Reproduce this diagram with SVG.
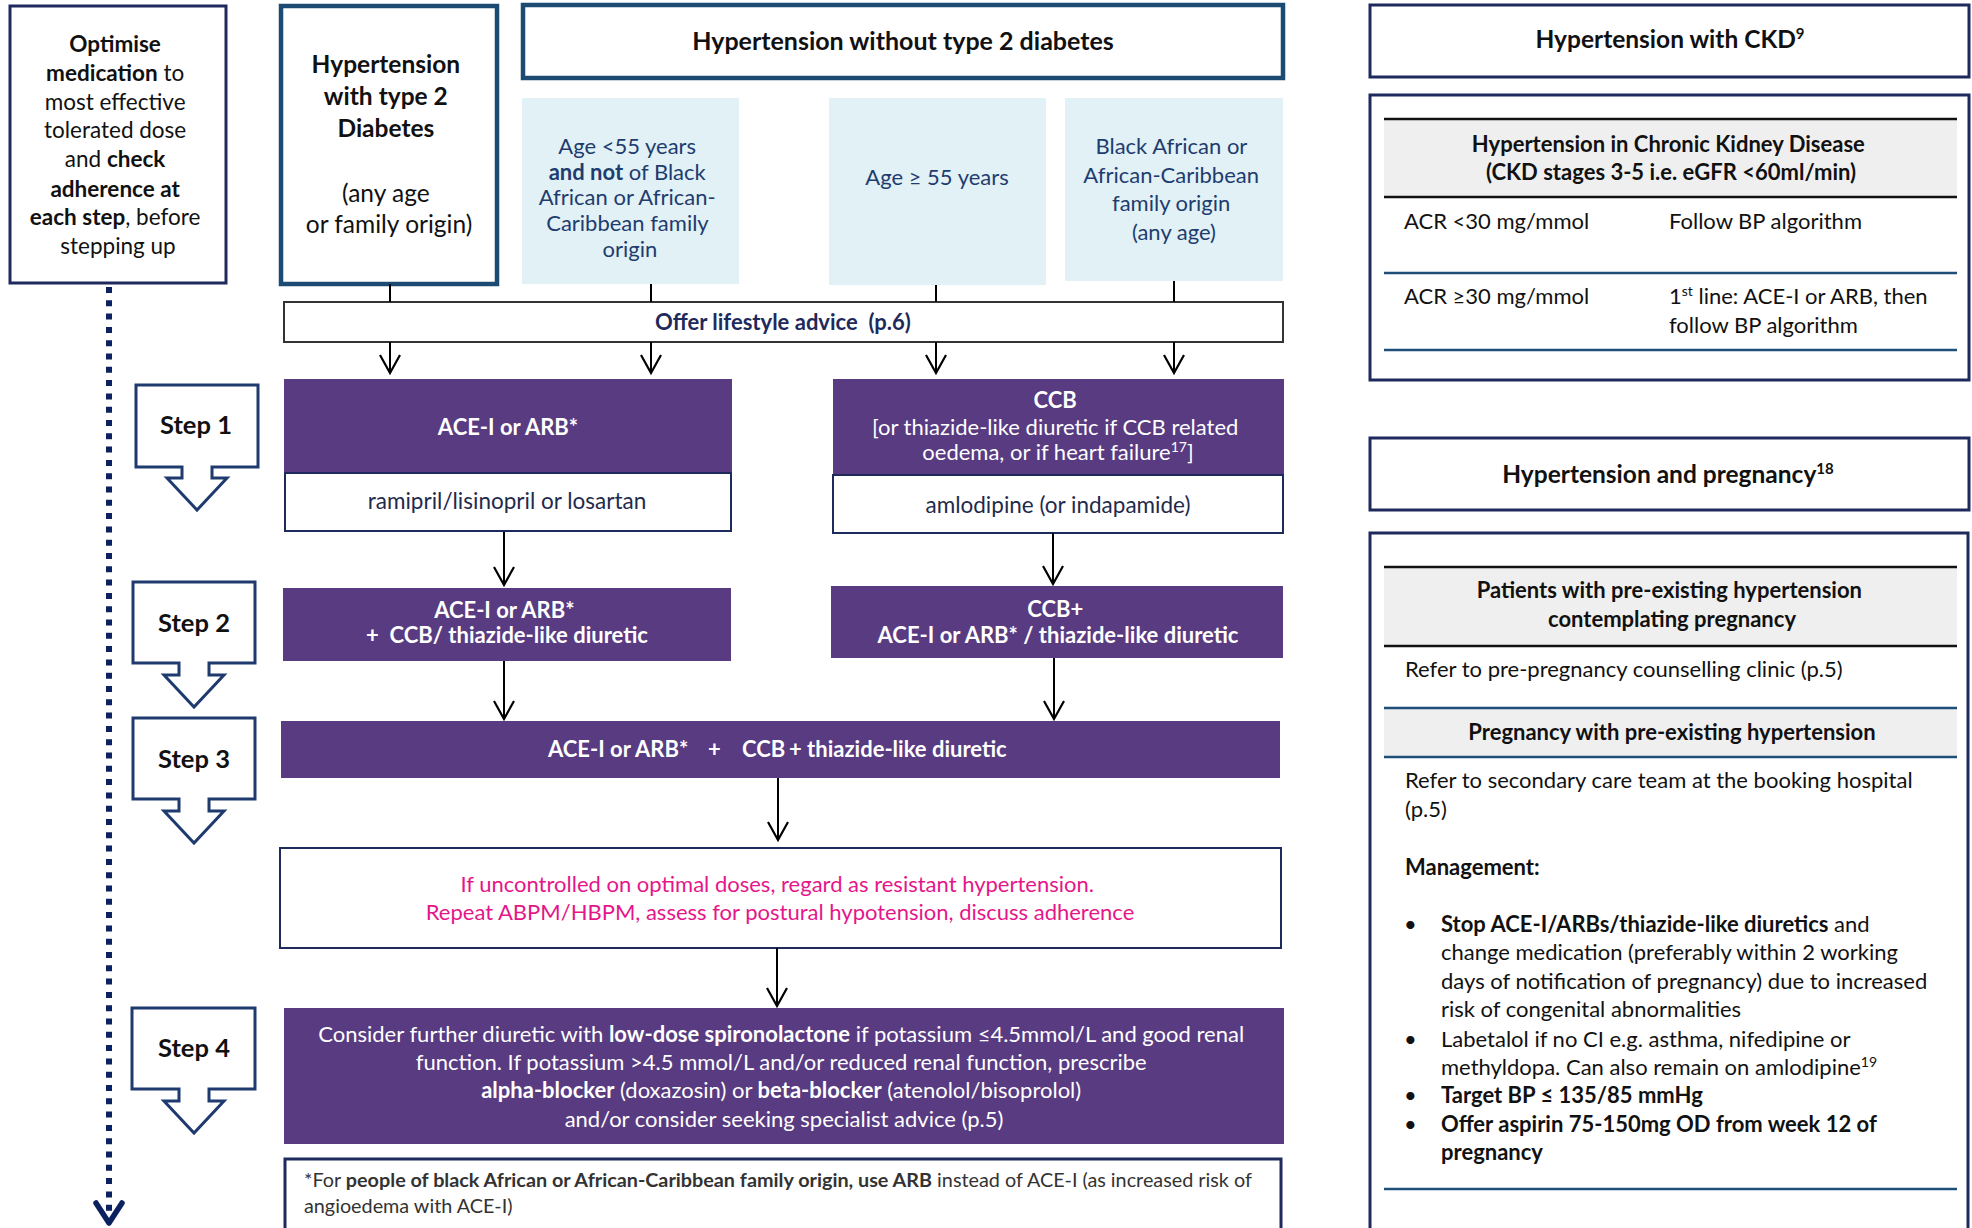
<svg xmlns="http://www.w3.org/2000/svg" width="1972" height="1228" viewBox="0 0 1972 1228">
<style>
text{font-family:Lato,"Open Sans","Liberation Sans",sans-serif;}
.b{font-weight:bold;}
.c{text-anchor:middle;}
.navyBox{fill:#fff;stroke:#1f2a5c;stroke-width:3;}
.blueBox{fill:#fff;stroke:#1b4a72;stroke-width:4.5;}
.lb{fill:#e1f1f6;}
.lbt{fill:#1f3c6e;font-size:22px;}
.pur{fill:#583b81;}
.wt{fill:#fff;font-size:22px;}
.sub{fill:#fff;stroke:#1f2a5c;stroke-width:2;}
.step{fill:#fff;stroke:#1f3a6e;stroke-width:3;stroke-linejoin:miter;}
.stept{font-size:25.5px;font-weight:bold;fill:#111;text-anchor:middle;}
.rt{font-size:22px;fill:#111;}
.conn{stroke:#000;stroke-width:2;fill:none;}
</style>
<defs>
<marker id="arr" markerUnits="userSpaceOnUse" orient="auto" overflow="visible" markerWidth="20" markerHeight="20" refX="0" refY="0">
<path d="M-18,-10 L0,0 L-18,10" fill="none" stroke="#000" stroke-width="2.2"/>
</marker>
<marker id="arrN" markerUnits="userSpaceOnUse" orient="auto" overflow="visible" markerWidth="30" markerHeight="30" refX="0" refY="0">
<path d="M-20,-13 L0,0 L-20,13" fill="none" stroke="#0b2160" stroke-width="5.5" stroke-linejoin="round" stroke-linecap="round"/>
</marker>
</defs>

<!-- Optimise box -->
<g id="optimise">
<rect class="navyBox" x="10" y="6" width="216" height="277"/>
<text class="c" font-size="22.5" fill="#111">
<tspan x="118" y="52" class="b">Optimise</tspan>
<tspan x="118" y="81"><tspan class="b">medication</tspan> to</tspan>
<tspan x="118" y="110">most effective</tspan>
<tspan x="118" y="138">tolerated dose</tspan>
<tspan x="118" y="167">and <tspan class="b">check</tspan></tspan>
<tspan x="118" y="197" class="b">adherence at</tspan>
<tspan x="118" y="225"><tspan class="b">each step</tspan>, before</tspan>
<tspan x="118" y="254">stepping up</tspan>
</text>
</g>

<!-- Diabetes box -->
<g id="t2d">
<rect class="blueBox" x="281" y="6" width="216" height="278"/>
<text class="c" font-size="24.5" fill="#111">
<tspan x="389" y="73" class="b">Hypertension</tspan>
<tspan x="389" y="105" class="b">with type 2</tspan>
<tspan x="389" y="137" class="b">Diabetes</tspan>
<tspan x="389" y="202">(any age</tspan>
<tspan x="389" y="233">or family origin)</tspan>
</text>
</g>

<!-- Without T2D header -->
<g id="noT2d">
<rect class="blueBox" x="523" y="5" width="760" height="73"/>
<text class="c b" x="903" y="50" font-size="25" fill="#111">Hypertension without type 2 diabetes</text>
</g>

<g id="ageUnder55">
<rect class="lb" x="522" y="98" width="217" height="186"/>
<text class="c lbt">
<tspan x="630" y="154">Age &lt;55 years</tspan>
<tspan x="630" y="180"><tspan class="b">and not</tspan> of Black</tspan>
<tspan x="630" y="205">African or African-</tspan>
<tspan x="630" y="231">Caribbean family</tspan>
<tspan x="630" y="257">origin</tspan>
</text>
</g>

<g id="age55plus">
<rect class="lb" x="829" y="98" width="217" height="187"/>
<text class="c lbt" x="937" y="185">Age ≥ 55 years</text>
</g>

<g id="blackAfrican">
<rect class="lb" x="1065" y="98" width="218" height="183"/>
<text class="c lbt">
<tspan x="1174" y="154">Black African or</tspan>
<tspan x="1174" y="183">African-Caribbean</tspan>
<tspan x="1174" y="211">family origin</tspan>
<tspan x="1174" y="240">(any age)</tspan>
</text>
</g>

<g id="lifestyle">
<rect x="284" y="302" width="999" height="40" fill="#fff" stroke="#333" stroke-width="2"/>
<text class="c b" x="783" y="330" font-size="22" fill="#1f2a5c">Offer lifestyle advice&#160; (p.6)</text>
</g>

<!-- Step arrows -->
<g id="step1">
<path class="step" d="M136,385 H258 V467 H212 V478 H227 L197,510 L167,478 H182 V467 H136 Z"/>
<text class="stept" x="196" y="434">Step 1</text>
</g>
<g id="step2">
<path class="step" d="M133,582 H255 V663 H209 V675 H224 L194,707 L164,675 H179 V663 H133 Z"/>
<text class="stept" x="194" y="632">Step 2</text>
</g>
<g id="step3">
<path class="step" d="M133,718 H255 V799 H209 V811 H224 L194,843 L164,811 H179 V799 H133 Z"/>
<text class="stept" x="194" y="768">Step 3</text>
</g>
<g id="step4">
<path class="step" d="M132,1008 H255 V1089 H209 V1101 H224 L194,1133 L164,1101 H179 V1089 H132 Z"/>
<text class="stept" x="194" y="1057">Step 4</text>
</g>

<!-- Step 1 left -->
<g id="s1left">
<rect class="pur" x="284" y="379" width="448" height="94"/>
<text class="c b wt" x="508" y="435">ACE-I or ARB*</text>
<rect class="sub" x="285" y="473" width="446" height="58"/>
<text class="c" x="507" y="509" font-size="22.5" fill="#1f2a4c">ramipril/lisinopril or losartan</text>
</g>

<!-- Step 1 right -->
<g id="s1right">
<rect class="pur" x="833" y="379" width="451" height="96"/>
<text class="c wt">
<tspan x="1058" y="408" class="b">CCB</tspan>
<tspan x="1058" y="435">[or thiazide-like diuretic if CCB related</tspan>
<tspan x="1058" y="460">oedema, or if heart failure<tspan font-size="14" baseline-shift="super">17</tspan>]</tspan>
</text>
<rect class="sub" x="833" y="475" width="450" height="58"/>
<text class="c" x="1058" y="513" font-size="22.5" fill="#1f2a4c">amlodipine (or indapamide)</text>
</g>

<!-- Step 2 -->
<g id="s2left">
<rect class="pur" x="283" y="588" width="448" height="73"/>
<text class="c b wt">
<tspan x="507" y="618">ACE-I or ARB*</tspan>
<tspan x="507" y="643">+&#160; CCB/ thiazide-like diuretic</tspan>
</text>
</g>
<g id="s2right">
<rect class="pur" x="831" y="586" width="452" height="72"/>
<text class="c b wt">
<tspan x="1058" y="617">CCB+</tspan>
<tspan x="1058" y="643">ACE-I or ARB* / thiazide-like diuretic</tspan>
</text>
</g>

<!-- Step 3 -->
<g id="s3">
<rect class="pur" x="281" y="721" width="999" height="57"/>
<text class="b wt" y="757">
<tspan x="548">ACE-I or ARB*</tspan>
<tspan x="708">+</tspan>
<tspan x="742">CCB</tspan>
<tspan x="789">+ thiazide-like diuretic</tspan>
</text>
</g>

<!-- Resistant -->
<g id="resistant">
<rect x="280" y="848" width="1001" height="100" fill="#fff" stroke="#1f2a5c" stroke-width="2"/>
<text class="c" font-size="22" fill="#e5168a">
<tspan x="780" y="892">If uncontrolled on optimal doses, regard as resistant hypertension.</tspan>
<tspan x="780" y="920">Repeat ABPM/HBPM, assess for postural hypotension, discuss adherence</tspan>
</text>
</g>

<!-- Step 4 -->
<g id="s4">
<rect class="pur" x="284" y="1008" width="1000" height="136"/>
<text class="c wt" font-size="22.4">
<tspan x="784" y="1042">Consider further diuretic with <tspan class="b">low-dose spironolactone</tspan> if potassium ≤4.5mmol/L and good renal</tspan>
<tspan x="784" y="1070">function. If potassium &gt;4.5 mmol/L and/or reduced renal function, prescribe</tspan>
<tspan x="784" y="1098"><tspan class="b">alpha-blocker</tspan> (doxazosin) or <tspan class="b">beta-blocker</tspan> (atenolol/bisoprolol)</tspan>
<tspan x="784" y="1127">and/or consider seeking specialist advice (p.5)</tspan>
</text>
</g>

<!-- Footnote -->
<g id="footnote">
<rect x="285" y="1159" width="996" height="90" fill="#fff" stroke="#1f2a5c" stroke-width="3"/>
<text font-size="19.8" fill="#333">
<tspan x="304" y="1187">*For <tspan class="b">people of black African or African-Caribbean family origin, use ARB</tspan> instead of ACE-I (as increased risk of</tspan>
<tspan x="304" y="1213">angioedema with ACE-I)</tspan>
</text>
</g>

<!-- CKD -->
<g id="ckdHeader">
<rect class="navyBox" x="1370" y="5" width="599" height="72" stroke-width="3.5"/>
<text class="c b" x="1670" y="48" font-size="24.5" fill="#111">Hypertension with CKD<tspan font-size="15" baseline-shift="super">9</tspan></text>
</g>
<g id="ckdTable">
<rect class="navyBox" x="1370" y="95" width="599" height="285" stroke-width="3.5"/>
<rect x="1384" y="119" width="573" height="78" fill="#efefef"/>
<line x1="1384" y1="119" x2="1957" y2="119" stroke="#111" stroke-width="2.5"/>
<line x1="1384" y1="197" x2="1957" y2="197" stroke="#111" stroke-width="2.5"/>
<line x1="1384" y1="273" x2="1957" y2="273" stroke="#1f4e79" stroke-width="2.5"/>
<line x1="1384" y1="350" x2="1957" y2="350" stroke="#1f4e79" stroke-width="2.5"/>
<text class="c b rt">
<tspan x="1671" y="152">Hypertension in Chronic Kidney Disease</tspan>
<tspan x="1671" y="180">(CKD stages 3-5 i.e. eGFR &lt;60ml/min)</tspan>
</text>
<text class="rt" x="1404" y="229">ACR &lt;30 mg/mmol</text>
<text class="rt" x="1669" y="229">Follow BP algorithm</text>
<text class="rt" x="1404" y="304">ACR ≥30 mg/mmol</text>
<text class="rt"><tspan x="1669" y="304">1<tspan font-size="14" baseline-shift="super">st</tspan> line: ACE-I or ARB, then</tspan><tspan x="1669" y="333">follow BP algorithm</tspan></text>
</g>

<!-- Pregnancy -->
<g id="pregHeader">
<rect class="navyBox" x="1370" y="438" width="599" height="72" stroke-width="3.5"/>
<text class="c b" x="1668" y="483" font-size="24.5" fill="#111">Hypertension and pregnancy<tspan font-size="15" baseline-shift="super">18</tspan></text>
</g>
<g id="pregTable">
<rect class="navyBox" x="1370" y="533" width="598" height="720" stroke-width="3.5"/>
<rect x="1384" y="567" width="573" height="79" fill="#efefef"/>
<rect x="1384" y="708" width="573" height="49" fill="#efefef"/>
<line x1="1384" y1="567" x2="1957" y2="567" stroke="#111" stroke-width="2.5"/>
<line x1="1384" y1="646" x2="1957" y2="646" stroke="#111" stroke-width="2.5"/>
<line x1="1384" y1="708" x2="1957" y2="708" stroke="#1f4e79" stroke-width="2.5"/>
<line x1="1384" y1="757" x2="1957" y2="757" stroke="#1f4e79" stroke-width="2.5"/>
<line x1="1384" y1="1189" x2="1957" y2="1189" stroke="#1f4e79" stroke-width="2.5"/>
<text class="c b rt">
<tspan x="1672" y="598">Patients with pre-existing hypertension</tspan>
<tspan x="1672" y="627">contemplating pregnancy</tspan>
</text>
<text class="rt" x="1405" y="677">Refer to pre-pregnancy counselling clinic (p.5)</text>
<text class="c b rt" x="1672" y="740">Pregnancy with pre-existing hypertension</text>
<text class="rt"><tspan x="1405" y="788">Refer to secondary care team at the booking hospital</tspan><tspan x="1405" y="817">(p.5)</tspan></text>
<text class="b rt" x="1405" y="875">Management:</text>
<text class="rt">
<tspan x="1404" y="932">•</tspan>
<tspan x="1441" y="932"><tspan class="b">Stop ACE-I/ARBs/thiazide-like diuretics</tspan> and</tspan>
<tspan x="1441" y="960">change medication (preferably within 2 working</tspan>
<tspan x="1441" y="989">days of notification of pregnancy) due to increased</tspan>
<tspan x="1441" y="1017">risk of congenital abnormalities</tspan>
<tspan x="1404" y="1047">•</tspan>
<tspan x="1441" y="1047">Labetalol if no CI e.g. asthma, nifedipine or</tspan>
<tspan x="1441" y="1075">methyldopa. Can also remain on amlodipine<tspan font-size="14" baseline-shift="super">19</tspan></tspan>
<tspan x="1404" y="1103">•</tspan>
<tspan x="1441" y="1103" class="b">Target BP ≤ 135/85 mmHg</tspan>
<tspan x="1404" y="1132">•</tspan>
<tspan x="1441" y="1132" class="b">Offer aspirin 75-150mg OD from week 12 of</tspan>
<tspan x="1441" y="1160" class="b">pregnancy</tspan>
</text>
</g>

<!-- Connectors -->
<g id="connectors">
<line class="conn" x1="390" y1="284" x2="390" y2="302"/>
<line class="conn" x1="651" y1="284" x2="651" y2="302"/>
<line class="conn" x1="936" y1="285" x2="936" y2="302"/>
<line class="conn" x1="1174" y1="281" x2="1174" y2="302"/>
<line class="conn" x1="390" y1="342" x2="390" y2="373" marker-end="url(#arr)"/>
<line class="conn" x1="651" y1="342" x2="651" y2="373" marker-end="url(#arr)"/>
<line class="conn" x1="936" y1="342" x2="936" y2="373" marker-end="url(#arr)"/>
<line class="conn" x1="1174" y1="342" x2="1174" y2="373" marker-end="url(#arr)"/>
<line class="conn" x1="504" y1="532" x2="504" y2="585" marker-end="url(#arr)"/>
<line class="conn" x1="1053" y1="533" x2="1053" y2="584" marker-end="url(#arr)"/>
<line class="conn" x1="504" y1="661" x2="504" y2="719" marker-end="url(#arr)"/>
<line class="conn" x1="1054" y1="658" x2="1054" y2="719" marker-end="url(#arr)"/>
<line class="conn" x1="778" y1="778" x2="778" y2="840" marker-end="url(#arr)"/>
<line class="conn" x1="777" y1="948" x2="777" y2="1006" marker-end="url(#arr)"/>
<line x1="109" y1="287" x2="109" y2="1223" stroke="#0b2160" stroke-width="6" stroke-dasharray="6 7.3" marker-end="url(#arrN)"/>
</g>
</svg>
